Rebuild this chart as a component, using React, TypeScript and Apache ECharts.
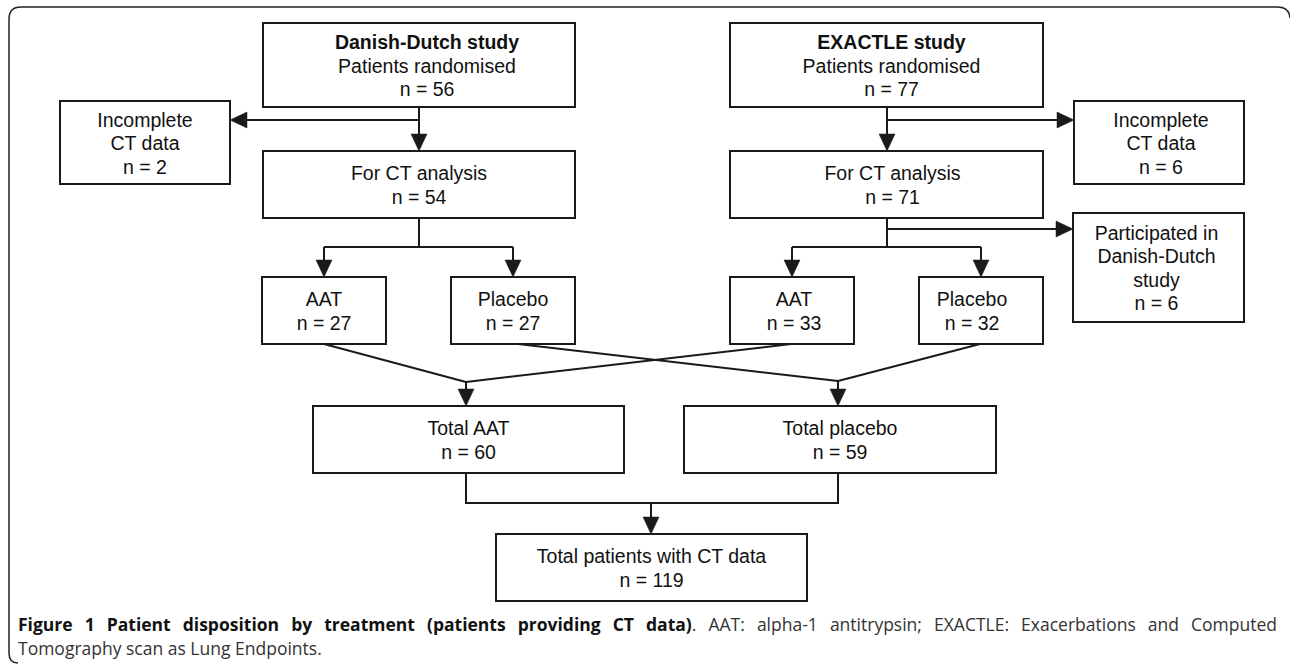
import React, { useEffect, useRef } from 'react';
import * as echarts from 'echarts';

// ---- Data (labels and counts) ----
const studyNames = ['Danish-Dutch study', 'EXACTLE study'];
const randomisedN = [56, 77];
const incompleteN = [2, 6];
const forCtN = [54, 71];
const aatN = [27, 33];
const placeboN = [27, 32];
const participatedN = [6];
const totalAatN = [60];
const totalPlaceboN = [59];
const totalN = [119];

const captionBold = 'Figure 1 Patient disposition by treatment (patients providing CT data)';
const captionRest1 = '. AAT: alpha-1 antitrypsin; EXACTLE: Exacerbations and Computed';
const captionLine2 = 'Tomography scan as Lung Endpoints.';

// ---- Layout (positions only) ----
type R = [number, number, number, number];
const LAYOUT: Record<string, R> = {
  dd: [263, 23, 575, 107],
  ex: [730, 23, 1043, 107],
  incL: [60, 101, 230, 184],
  incR: [1074, 101, 1244, 184],
  ctL: [263, 151, 575, 218],
  ctR: [730, 151, 1043, 218],
  part: [1073, 213, 1244, 322],
  aatL: [262, 277, 386, 344],
  plaL: [451, 277, 575, 344],
  aatR: [730, 277, 854, 344],
  plaR: [919, 277, 1043, 344],
  totA: [313, 406, 624, 473],
  totP: [684, 406, 996, 473],
  fin: [496, 534, 807, 601],
};
// horizontal offset of the text block inside some boxes
const TEXT_DX: Record<string, number> = { dd: 8, ex: 5, incR: 2, ctR: 6, aatR: 2, plaR: -9, part: -2 };

const INK = '#1a1a1a';
const BOX_FONT = '"Liberation Sans", Arial, Helvetica, sans-serif';
const BOX_SIZE = 19.5;
const LINE_H = 23.5;
const CAP_FONT = '"Open Sans", "Noto Sans", sans-serif';
const CAP_SIZE = 17.5;

type Line = { t: string; b?: boolean };

function box(key: string, lines: Line[]): any[] {
  const [x1, y1, x2, y2] = LAYOUT[key];
  const cx = (x1 + x2) / 2 + (TEXT_DX[key] || 0);
  const cy = (y1 + y2) / 2 + 0.5;
  const els: any[] = [
    {
      type: 'rect',
      shape: { x: x1, y: y1, width: x2 - x1, height: y2 - y1 },
      style: { fill: '#fff', stroke: INK, lineWidth: 2 },
    },
  ];
  const n = lines.length;
  lines.forEach((ln, i) => {
    els.push({
      type: 'text',
      x: cx,
      y: cy + (i - (n - 1) / 2) * LINE_H,
      style: {
        text: ln.t,
        fill: '#111',
        fontSize: BOX_SIZE,
        fontFamily: BOX_FONT,
        fontWeight: ln.b ? 'bold' : 'normal',
        align: 'center',
        verticalAlign: 'middle',
      },
    });
  });
  return els;
}

function seg(points: number[][]): any {
  return {
    type: 'polyline',
    shape: { points },
    style: { stroke: INK, lineWidth: 2, fill: null, lineJoin: 'miter' },
  };
}

const HEAD_L = 17;
const HEAD_W = 8;
function arrow(x1: number, y1: number, x2: number, y2: number): any[] {
  const dx = x2 - x1;
  const dy = y2 - y1;
  const len = Math.sqrt(dx * dx + dy * dy);
  const ux = dx / len;
  const uy = dy / len;
  const bx = x2 - ux * HEAD_L;
  const by = y2 - uy * HEAD_L;
  const px = -uy * HEAD_W;
  const py = ux * HEAD_W;
  return [
    seg([
      [x1, y1],
      [bx, by],
    ]),
    {
      type: 'polygon',
      shape: {
        points: [
          [bx + px, by + py],
          [bx - px, by - py],
          [x2, y2],
        ],
      },
      style: { fill: INK, stroke: INK, lineWidth: 0.5 },
    },
  ];
}

function measure(text: string, bold: boolean): number {
  const c = document.createElement('canvas');
  const ctx = c.getContext('2d')!;
  ctx.font = `${bold ? 'bold ' : ''}${CAP_SIZE}px ${CAP_FONT}`;
  return ctx.measureText(text).width;
}

function captionEls(): any[] {
  const els: any[] = [];
  const left = 18;
  const right = 1277;
  const y1 = 624;
  const y2 = 648;
  const bw = captionBold.split(' ');
  const rw = captionRest1.split(' ');
  const groups: Line[][] = [];
  bw.slice(0, -1).forEach((w) => groups.push([{ t: w, b: true }]));
  groups.push([
    { t: bw[bw.length - 1], b: true },
    { t: rw[0], b: false },
  ]);
  rw.slice(1).forEach((w) => groups.push([{ t: w, b: false }]));
  const widths = groups.map((g) => g.reduce((s, p) => s + measure(p.t, !!p.b), 0));
  const sum = widths.reduce((a, b) => a + b, 0);
  const gap = (right - left - sum) / (groups.length - 1);
  let x = left;
  groups.forEach((g, gi) => {
    let xx = x;
    g.forEach((p) => {
      els.push({
        type: 'text',
        x: xx,
        y: y1,
        style: {
          text: p.t,
          fill: p.b ? '#111' : '#333',
          fontSize: CAP_SIZE,
          fontFamily: CAP_FONT,
          fontWeight: p.b ? 'bold' : 'normal',
          align: 'left',
          verticalAlign: 'middle',
        },
      });
      xx += measure(p.t, !!p.b);
    });
    x += widths[gi] + gap;
  });
  els.push({
    type: 'text',
    x: left,
    y: y2,
    style: {
      text: captionLine2,
      fill: '#333',
      fontSize: CAP_SIZE,
      fontFamily: CAP_FONT,
      align: 'left',
      verticalAlign: 'middle',
    },
  });
  return els;
}

const FRAME_D = 'M1290 18 Q1289 7 1278 7 L21 7 Q9 7 9 19 L9 653 Q9 663 18 663';

export default function App() {
  const ref = useRef<HTMLDivElement>(null);
  useEffect(() => {
    if (!ref.current) return;
    echarts.graphic.registerShape('frame', echarts.graphic.extendPath(FRAME_D, {}) as any);
    const chart = echarts.init(ref.current, undefined, { renderer: 'svg' });
    const n = (v: number) => `n = ${v}`;
    const els: any[] = [];

    els.push({
      type: 'frame',
      x: 0,
      y: 0,
      scaleX: 1,
      scaleY: 1,
      style: { fill: 'none', stroke: '#222', lineWidth: 1.5 },
    });

    // connectors
    els.push(...arrow(419, 107, 419, 151));
    els.push(...arrow(419, 120, 230, 120));
    els.push(...arrow(887, 107, 887, 151));
    els.push(...arrow(887, 120, 1074, 120));

    els.push(seg([[419, 218], [419, 247]]));
    els.push(seg([[324, 247], [513, 247]]));
    els.push(...arrow(324, 247, 324, 277));
    els.push(...arrow(513, 247, 513, 277));

    els.push(seg([[887, 218], [887, 247]]));
    els.push(...arrow(887, 229, 1073, 229));
    els.push(seg([[792, 247], [981, 247]]));
    els.push(...arrow(792, 247, 792, 277));
    els.push(...arrow(981, 247, 981, 277));

    els.push(seg([[324, 344], [466, 382]]));
    els.push(seg([[791, 344], [466, 382]]));
    els.push(seg([[518, 344], [838, 381]]));
    els.push(seg([[980, 344], [838, 381]]));
    els.push(...arrow(466, 382, 466, 406));
    els.push(...arrow(838, 381, 838, 406));

    els.push(seg([[466, 473], [466, 503], [838, 503], [838, 473]]));
    els.push(...arrow(651, 503, 651, 534));

    // boxes
    els.push(...box('dd', [{ t: studyNames[0], b: true }, { t: 'Patients randomised' }, { t: n(randomisedN[0]) }]));
    els.push(...box('ex', [{ t: studyNames[1], b: true }, { t: 'Patients randomised' }, { t: n(randomisedN[1]) }]));
    els.push(...box('incL', [{ t: 'Incomplete' }, { t: 'CT data' }, { t: n(incompleteN[0]) }]));
    els.push(...box('incR', [{ t: 'Incomplete' }, { t: 'CT data' }, { t: n(incompleteN[1]) }]));
    els.push(...box('ctL', [{ t: 'For CT analysis' }, { t: n(forCtN[0]) }]));
    els.push(...box('ctR', [{ t: 'For CT analysis' }, { t: n(forCtN[1]) }]));
    els.push(...box('part', [{ t: 'Participated in' }, { t: 'Danish-Dutch' }, { t: 'study' }, { t: n(participatedN[0]) }]));
    els.push(...box('aatL', [{ t: 'AAT' }, { t: n(aatN[0]) }]));
    els.push(...box('plaL', [{ t: 'Placebo' }, { t: n(placeboN[0]) }]));
    els.push(...box('aatR', [{ t: 'AAT' }, { t: n(aatN[1]) }]));
    els.push(...box('plaR', [{ t: 'Placebo' }, { t: n(placeboN[1]) }]));
    els.push(...box('totA', [{ t: 'Total AAT' }, { t: n(totalAatN[0]) }]));
    els.push(...box('totP', [{ t: 'Total placebo' }, { t: n(totalPlaceboN[0]) }]));
    els.push(...box('fin', [{ t: 'Total patients with CT data' }, { t: n(totalN[0]) }]));

    els.push(...captionEls());

    chart.setOption({
      animation: false,
      backgroundColor: '#fff',
      graphic: { elements: els },
    });
    return () => chart.dispose();
  }, []);
  return (
    <div
      ref={ref}
      style={{ position: 'fixed', left: 0, top: 0, width: 1290, height: 672, background: '#fff' }}
    />
  );
}
